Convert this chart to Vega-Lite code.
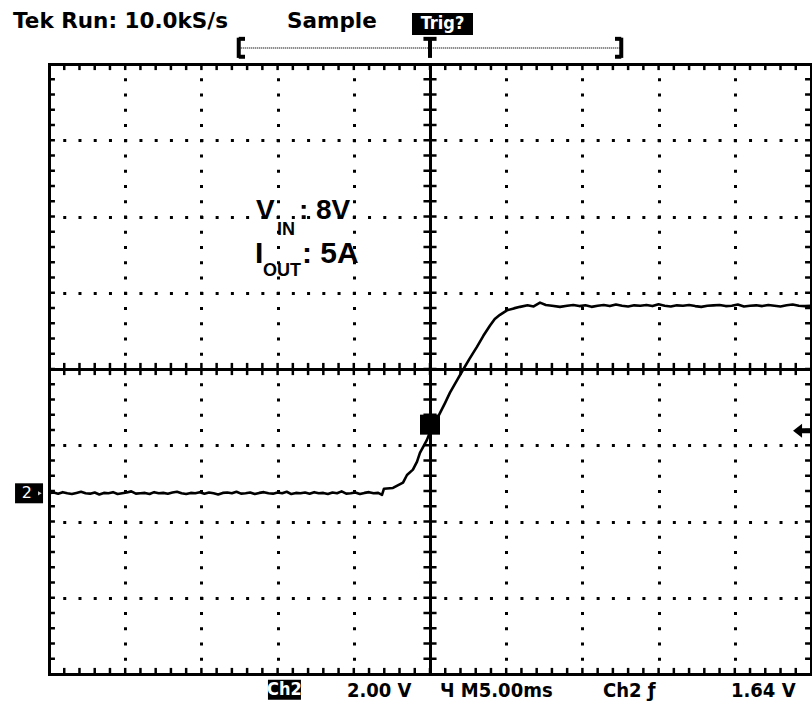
{
  "$schema": "https://vega.github.io/schema/vega-lite/v6.json",
  "width": 762,
  "height": 610,
  "autosize": {"type": "none"},
  "padding": {"left": 49, "top": 64, "right": 1, "bottom": 29},
  "background": "white",
  "config": {
    "view": {"stroke": null},
    "axis": {"domainColor": "black", "gridColor": "black", "grid": false, "ticks": false, "labels": false, "title": null, "domainCap": "square"}
  },
  "datasets": {
    "trace": [
      {"t": -25.0, "v": 0.00}, {"t": -24.7, "v": 0.02}, {"t": -24.4, "v": -0.01}, {"t": -24.1, "v": 0.03}, {"t": -23.8, "v": 0.00},
      {"t": -23.5, "v": -0.02}, {"t": -23.2, "v": 0.01}, {"t": -22.9, "v": 0.04}, {"t": -22.6, "v": 0.00}, {"t": -22.3, "v": -0.01},
      {"t": -22.0, "v": 0.02}, {"t": -21.7, "v": -0.03}, {"t": -21.4, "v": 0.01}, {"t": -21.1, "v": 0.00}, {"t": -20.8, "v": 0.03},
      {"t": -20.5, "v": -0.02}, {"t": -20.2, "v": 0.00}, {"t": -19.9, "v": 0.02}, {"t": -19.6, "v": 0.05}, {"t": -19.3, "v": -0.01},
      {"t": -19.0, "v": 0.00}, {"t": -18.7, "v": 0.01}, {"t": -18.4, "v": -0.02}, {"t": -18.1, "v": 0.03}, {"t": -17.8, "v": 0.00},
      {"t": -17.5, "v": 0.01}, {"t": -17.2, "v": -0.01}, {"t": -16.9, "v": 0.02}, {"t": -16.6, "v": 0.04}, {"t": -16.3, "v": 0.00},
      {"t": -16.0, "v": -0.02}, {"t": -15.7, "v": 0.01}, {"t": -15.4, "v": 0.00}, {"t": -15.1, "v": 0.03}, {"t": -14.8, "v": -0.01},
      {"t": -14.5, "v": 0.02}, {"t": -14.2, "v": 0.00}, {"t": -13.9, "v": -0.03}, {"t": -13.6, "v": 0.01}, {"t": -13.3, "v": 0.02},
      {"t": -13.0, "v": 0.00}, {"t": -12.7, "v": 0.04}, {"t": -12.4, "v": -0.01}, {"t": -12.1, "v": 0.00}, {"t": -11.8, "v": 0.02},
      {"t": -11.5, "v": -0.02}, {"t": -11.2, "v": 0.01}, {"t": -10.9, "v": 0.03}, {"t": -10.6, "v": 0.00}, {"t": -10.3, "v": -0.01},
      {"t": -10.0, "v": 0.02}, {"t": -9.7, "v": 0.00}, {"t": -9.4, "v": 0.04}, {"t": -9.1, "v": -0.02}, {"t": -8.8, "v": 0.01},
      {"t": -8.5, "v": 0.00}, {"t": -8.2, "v": 0.02}, {"t": -7.9, "v": -0.01}, {"t": -7.6, "v": 0.03}, {"t": -7.3, "v": 0.00},
      {"t": -7.0, "v": 0.01}, {"t": -6.7, "v": -0.02}, {"t": -6.4, "v": 0.02}, {"t": -6.1, "v": 0.00}, {"t": -5.8, "v": 0.05},
      {"t": -5.5, "v": -0.01}, {"t": -5.2, "v": 0.00}, {"t": -4.9, "v": 0.02}, {"t": -4.6, "v": -0.02}, {"t": -4.3, "v": 0.01},
      {"t": -4.0, "v": 0.03}, {"t": -3.7, "v": 0.00}, {"t": -3.4, "v": 0.01},
      {"t": -3.15, "v": -0.04}, {"t": -3.02, "v": 0.12}, {"t": -2.43, "v": 0.14}, {"t": -1.77, "v": 0.28}, {"t": -1.51, "v": 0.48},
      {"t": -1.12, "v": 0.62}, {"t": -0.85, "v": 0.83}, {"t": -0.66, "v": 1.06}, {"t": -0.20, "v": 1.40}, {"t": 0.00, "v": 1.61},
      {"t": 0.33, "v": 1.85}, {"t": 0.66, "v": 2.11}, {"t": 1.00, "v": 2.38}, {"t": 1.31, "v": 2.64}, {"t": 1.75, "v": 2.95},
      {"t": 2.17, "v": 3.24}, {"t": 2.60, "v": 3.53}, {"t": 3.08, "v": 3.84}, {"t": 3.50, "v": 4.13}, {"t": 3.94, "v": 4.40},
      {"t": 4.25, "v": 4.57}, {"t": 4.59, "v": 4.68}, {"t": 5.05, "v": 4.80}, {"t": 5.50, "v": 4.85}, {"t": 5.91, "v": 4.89},
      {"t": 6.40, "v": 4.93}, {"t": 6.80, "v": 4.90}, {"t": 7.22, "v": 5.00}, {"t": 7.60, "v": 4.94}, {"t": 8.00, "v": 4.92},
      {"t": 8.53, "v": 4.89},
      {"t": 9.0, "v": 4.92}, {"t": 9.4, "v": 4.94}, {"t": 9.8, "v": 4.91}, {"t": 10.2, "v": 4.93}, {"t": 10.6, "v": 4.89},
      {"t": 11.0, "v": 4.92}, {"t": 11.4, "v": 4.94}, {"t": 11.8, "v": 4.91}, {"t": 12.2, "v": 4.95}, {"t": 12.6, "v": 4.92},
      {"t": 13.0, "v": 4.90}, {"t": 13.4, "v": 4.93}, {"t": 13.8, "v": 4.92}, {"t": 14.2, "v": 4.94}, {"t": 14.6, "v": 4.91},
      {"t": 15.0, "v": 4.96}, {"t": 15.4, "v": 4.92}, {"t": 15.8, "v": 4.90}, {"t": 16.2, "v": 4.93}, {"t": 16.6, "v": 4.92},
      {"t": 17.0, "v": 4.94}, {"t": 17.4, "v": 4.91}, {"t": 17.8, "v": 4.89}, {"t": 18.2, "v": 4.92}, {"t": 18.6, "v": 4.93},
      {"t": 19.0, "v": 4.94}, {"t": 19.4, "v": 4.91}, {"t": 19.8, "v": 4.92}, {"t": 20.2, "v": 4.95}, {"t": 20.6, "v": 4.90},
      {"t": 21.0, "v": 4.92}, {"t": 21.4, "v": 4.93}, {"t": 21.8, "v": 4.91}, {"t": 22.2, "v": 4.94}, {"t": 22.6, "v": 4.92},
      {"t": 23.0, "v": 4.90}, {"t": 23.4, "v": 4.93}, {"t": 23.8, "v": 4.95}, {"t": 24.2, "v": 4.92}, {"t": 24.6, "v": 4.91},
      {"t": 25.0, "v": 4.92}
    ],
    "divT": [
      {"t": -24}, {"t": -23}, {"t": -22}, {"t": -21}, {"t": -20}, {"t": -19}, {"t": -18}, {"t": -17}, {"t": -16},
      {"t": -15}, {"t": -14}, {"t": -13}, {"t": -12}, {"t": -11}, {"t": -10}, {"t": -9}, {"t": -8}, {"t": -7}, {"t": -6},
      {"t": -5}, {"t": -4}, {"t": -3}, {"t": -2}, {"t": -1}, {"t": 0}, {"t": 1}, {"t": 2}, {"t": 3}, {"t": 4},
      {"t": 5}, {"t": 6}, {"t": 7}, {"t": 8}, {"t": 9}, {"t": 10}, {"t": 11}, {"t": 12}, {"t": 13}, {"t": 14},
      {"t": 15}, {"t": 16}, {"t": 17}, {"t": 18}, {"t": 19}, {"t": 20}, {"t": 21}, {"t": 22}, {"t": 23}, {"t": 24}
    ],
    "divV": [
      {"v": -4.34}, {"v": -3.94}, {"v": -3.54}, {"v": -3.14}, {"v": -2.74}, {"v": -2.34}, {"v": -1.94}, {"v": -1.54}, {"v": -1.14},
      {"v": -0.74}, {"v": -0.34}, {"v": 0.06}, {"v": 0.46}, {"v": 0.86}, {"v": 1.26}, {"v": 1.66}, {"v": 2.06}, {"v": 2.46}, {"v": 2.86},
      {"v": 3.26}, {"v": 3.66}, {"v": 4.06}, {"v": 4.46}, {"v": 4.86}, {"v": 5.26}, {"v": 5.66}, {"v": 6.06}, {"v": 6.46}, {"v": 6.86},
      {"v": 7.26}, {"v": 7.66}, {"v": 8.06}, {"v": 8.46}, {"v": 8.86}, {"v": 9.26}, {"v": 9.66}, {"v": 10.06}, {"v": 10.46}, {"v": 10.86}
    ],
    "trigPoint": [{"t": 0, "v": 1.80}],
    "trigLevel": [{"t": 24.38, "v": 1.64}],
    "ground": [{"t": -26.31, "v": 0}],
    "groundLabel": [{"t": -26.45, "v": 0, "text": "2"}],
    "groundArrow": [{"t": -25.6, "v": 0}],
    "header": [
      {"t": -27.36, "v": 12.21, "text": "Tek Run: 10.0kS/s"},
      {"t": -9.38, "v": 12.21, "text": "Sample"}
    ],
    "trigBox": [{"t": 0.82, "v": 12.31}],
    "chBox": [{"t": -9.55, "v": -5.15}],
    "boxText": [
      {"t": 0.82, "v": 12.31, "text": "Trig?"},
      {"t": -9.55, "v": -5.15, "text": "Ch2"}
    ],
    "footer": [
      {"t": -5.45, "v": -5.34, "text": "2.00 V"},
      {"t": 0.66, "v": -5.34, "text": "Ч M5.00ms"},
      {"t": 11.35, "v": -5.34, "text": "Ch2 ƒ"},
      {"t": 19.75, "v": -5.34, "text": "1.64 V"}
    ],
    "noteBig": [
      {"t": -11.42, "v": 7.20, "text": "V"},
      {"t": -8.60, "v": 7.20, "text": ": 8V"}
    ],
    "noteBig2": [
      {"t": -11.48, "v": 6.05, "text": "I"},
      {"t": -8.40, "v": 6.05, "text": ": 5A"}
    ],
    "noteSub": [
      {"t": -10.04, "v": 6.78, "text": "IN"},
      {"t": -10.96, "v": 5.69, "text": "OUT"}
    ],
    "recordLine": [{"t": -12.55, "t2": 12.55, "v": 11.68, "v2": 11.68}],
    "recordMarks": [
      {"t": -12.55, "t2": -12.55, "v": 11.42, "v2": 11.95},
      {"t": -12.55, "t2": -12.14, "v": 11.92, "v2": 11.92},
      {"t": -12.55, "t2": -12.14, "v": 11.45, "v2": 11.45},
      {"t": 12.55, "t2": 12.55, "v": 11.42, "v2": 11.95},
      {"t": 12.14, "t2": 12.55, "v": 11.92, "v2": 11.92},
      {"t": 12.14, "t2": 12.55, "v": 11.45, "v2": 11.45},
      {"t": 0, "t2": 0, "v": 11.42, "v2": 11.95},
      {"t": -0.43, "t2": 0.43, "v": 11.92, "v2": 11.92}
    ]
  },
  "resolve": {"axis": {"x": "independent", "y": "independent"}},
  "layer": [
    {
      "data": {"name": "trace"},
      "mark": {"type": "line", "color": "black", "strokeWidth": 2.6, "strokeJoin": "round"},
      "encoding": {
        "x": {"field": "t", "type": "quantitative", "scale": {"domain": [-25, 25], "nice": false, "zero": false},
          "axis": {"orient": "bottom", "values": [-25,-20,-15,-10,-5,0,5,10,15,20,25],
            "domain": true, "domainWidth": 3,
            "grid": true, "gridWidth": 3, "gridDash": [3, 12.25], "gridDashOffset": 1.5}},
        "y": {"field": "v", "type": "quantitative", "scale": {"domain": [-4.74, 11.26], "nice": false, "zero": false},
          "axis": {"orient": "left", "values": [-4.74,-2.74,-0.74,1.26,3.26,5.26,7.26,9.26,11.26],
            "domain": true, "domainWidth": 3,
            "grid": true, "gridWidth": 3, "gridDash": [3, 12.24], "gridDashOffset": 1.5}}
      }
    },
    {
      "data": {"name": "trigPoint"},
      "mark": {"type": "point", "shape": "square", "size": 400, "filled": true, "color": "black", "opacity": 1, "strokeWidth": 0},
      "encoding": {
        "x": {"field": "t", "type": "quantitative", "scale": {"domain": [-25, 25], "nice": false, "zero": false},
          "axis": {"orient": "top", "domain": true, "domainWidth": 3}},
        "y": {"field": "v", "type": "quantitative", "scale": {"domain": [-4.74, 11.26], "nice": false, "zero": false},
          "axis": {"orient": "right", "domain": true, "domainWidth": 3}}
      }
    },
    {
      "data": {"name": "trigLevel"},
      "mark": {"type": "point", "shape": "M-1,0L0.06,-0.82L0.06,-0.29L1,-0.29L1,0.29L0.06,0.29L0.06,0.82Z", "size": 289, "filled": true, "color": "black", "opacity": 1, "strokeWidth": 0},
      "encoding": {
        "x": {"field": "t", "type": "quantitative", "scale": {"domain": [-25, 25], "nice": false, "zero": false},
          "axis": {"orient": "bottom", "offset": -305, "domain": true, "domainWidth": 3}},
        "y": {"field": "v", "type": "quantitative", "scale": {"domain": [-4.74, 11.26], "nice": false, "zero": false},
          "axis": {"orient": "left", "offset": -381, "domain": true, "domainWidth": 3}}
      }
    },
    {
      "data": {"name": "divT"},
      "mark": {"type": "rule", "color": "black", "strokeWidth": 2.5},
      "encoding": {
        "x": {"field": "t", "type": "quantitative", "axis": null},
        "y": {"datum": -4.74, "type": "quantitative", "axis": null}, "y2": {"datum": -4.58}
      }
    },
    {
      "data": {"name": "divT"},
      "mark": {"type": "rule", "color": "black", "strokeWidth": 2.5},
      "encoding": {
        "x": {"field": "t", "type": "quantitative", "axis": null},
        "y": {"datum": 11.26, "type": "quantitative", "axis": null}, "y2": {"datum": 11.10}
      }
    },
    {
      "data": {"name": "divT"},
      "mark": {"type": "rule", "color": "black", "strokeWidth": 2.5},
      "encoding": {
        "x": {"field": "t", "type": "quantitative", "axis": null},
        "y": {"datum": 3.10, "type": "quantitative", "axis": null}, "y2": {"datum": 3.42}
      }
    },
    {
      "data": {"name": "divV"},
      "mark": {"type": "rule", "color": "black", "strokeWidth": 2.5},
      "encoding": {
        "y": {"field": "v", "type": "quantitative", "axis": null},
        "x": {"datum": -25, "type": "quantitative", "axis": null}, "x2": {"datum": -24.61}
      }
    },
    {
      "data": {"name": "divV"},
      "mark": {"type": "rule", "color": "black", "strokeWidth": 2.5},
      "encoding": {
        "y": {"field": "v", "type": "quantitative", "axis": null},
        "x": {"datum": 25, "type": "quantitative", "axis": null}, "x2": {"datum": 24.61}
      }
    },
    {
      "data": {"name": "divV"},
      "mark": {"type": "rule", "color": "black", "strokeWidth": 2.5},
      "encoding": {
        "y": {"field": "v", "type": "quantitative", "axis": null},
        "x": {"datum": -0.43, "type": "quantitative", "axis": null}, "x2": {"datum": 0.43}
      }
    },
    {
      "data": {"name": "ground"},
      "mark": {"type": "point", "shape": "M-1,-0.714H1V0.714H-1Z", "size": 784, "filled": true, "color": "black", "opacity": 1, "strokeWidth": 0},
      "encoding": {"x": {"field": "t", "type": "quantitative", "axis": null}, "y": {"field": "v", "type": "quantitative", "axis": null}}
    },
    {
      "data": {"name": "groundLabel"},
      "mark": {"type": "text", "color": "white", "font": "DejaVu Sans", "fontSize": 16, "align": "center", "baseline": "middle"},
      "encoding": {"x": {"field": "t", "type": "quantitative", "axis": null}, "y": {"field": "v", "type": "quantitative", "axis": null}, "text": {"field": "text"}}
    },
    {
      "data": {"name": "groundArrow"},
      "mark": {"type": "point", "shape": "triangle-right", "size": 18, "filled": true, "color": "#cccccc", "opacity": 1, "strokeWidth": 0},
      "encoding": {"x": {"field": "t", "type": "quantitative", "axis": null}, "y": {"field": "v", "type": "quantitative", "axis": null}}
    },
    {
      "data": {"name": "header"},
      "mark": {"type": "text", "color": "black", "font": "DejaVu Sans", "fontWeight": "bold", "fontSize": 21.5, "align": "left", "baseline": "alphabetic"},
      "encoding": {"x": {"field": "t", "type": "quantitative", "axis": null}, "y": {"field": "v", "type": "quantitative", "axis": null}, "text": {"field": "text"}}
    },
    {
      "data": {"name": "trigBox"},
      "mark": {"type": "point", "shape": "M-1,-0.36H1V0.36H-1Z", "size": 3721, "filled": true, "color": "black", "opacity": 1, "strokeWidth": 0},
      "encoding": {"x": {"field": "t", "type": "quantitative", "axis": null}, "y": {"field": "v", "type": "quantitative", "axis": null}}
    },
    {
      "data": {"name": "chBox"},
      "mark": {"type": "point", "shape": "M-1,-0.606H1V0.606H-1Z", "size": 1089, "filled": true, "color": "black", "opacity": 1, "strokeWidth": 0},
      "encoding": {"x": {"field": "t", "type": "quantitative", "axis": null}, "y": {"field": "v", "type": "quantitative", "axis": null}}
    },
    {
      "data": {"name": "boxText"},
      "mark": {"type": "text", "color": "white", "font": "DejaVu Sans Condensed, DejaVu Sans", "fontWeight": "bold", "fontSize": 18, "align": "center", "baseline": "middle"},
      "encoding": {"x": {"field": "t", "type": "quantitative", "axis": null}, "y": {"field": "v", "type": "quantitative", "axis": null}, "text": {"field": "text"}}
    },
    {
      "data": {"name": "footer"},
      "mark": {"type": "text", "color": "black", "font": "DejaVu Sans Condensed, DejaVu Sans", "fontWeight": "bold", "fontSize": 20, "align": "left", "baseline": "alphabetic"},
      "encoding": {"x": {"field": "t", "type": "quantitative", "axis": null}, "y": {"field": "v", "type": "quantitative", "axis": null}, "text": {"field": "text"}}
    },
    {
      "data": {"name": "noteBig"},
      "mark": {"type": "text", "color": "black", "font": "Liberation Sans", "fontWeight": "bold", "fontSize": 28, "align": "left", "baseline": "alphabetic"},
      "encoding": {"x": {"field": "t", "type": "quantitative", "axis": null}, "y": {"field": "v", "type": "quantitative", "axis": null}, "text": {"field": "text"}}
    },
    {
      "data": {"name": "noteBig2"},
      "mark": {"type": "text", "color": "black", "font": "Liberation Sans", "fontWeight": "bold", "fontSize": 30, "align": "left", "baseline": "alphabetic"},
      "encoding": {"x": {"field": "t", "type": "quantitative", "axis": null}, "y": {"field": "v", "type": "quantitative", "axis": null}, "text": {"field": "text"}}
    },
    {
      "data": {"name": "noteSub"},
      "mark": {"type": "text", "color": "black", "font": "Liberation Sans", "fontWeight": "bold", "fontSize": 18, "align": "left", "baseline": "alphabetic"},
      "encoding": {"x": {"field": "t", "type": "quantitative", "axis": null}, "y": {"field": "v", "type": "quantitative", "axis": null}, "text": {"field": "text"}}
    },
    {
      "data": {"name": "recordLine"},
      "mark": {"type": "rule", "color": "#333333", "strokeWidth": 1.3, "strokeDash": [1, 1]},
      "encoding": {
        "x": {"field": "t", "type": "quantitative", "axis": null}, "y": {"field": "v", "type": "quantitative", "axis": null},
        "x2": {"field": "t2"}, "y2": {"field": "v2"}
      }
    },
    {
      "data": {"name": "recordMarks"},
      "mark": {"type": "rule", "color": "black", "strokeWidth": 4},
      "encoding": {
        "x": {"field": "t", "type": "quantitative", "axis": null}, "y": {"field": "v", "type": "quantitative", "axis": null},
        "x2": {"field": "t2"}, "y2": {"field": "v2"}
      }
    }
  ]
}
